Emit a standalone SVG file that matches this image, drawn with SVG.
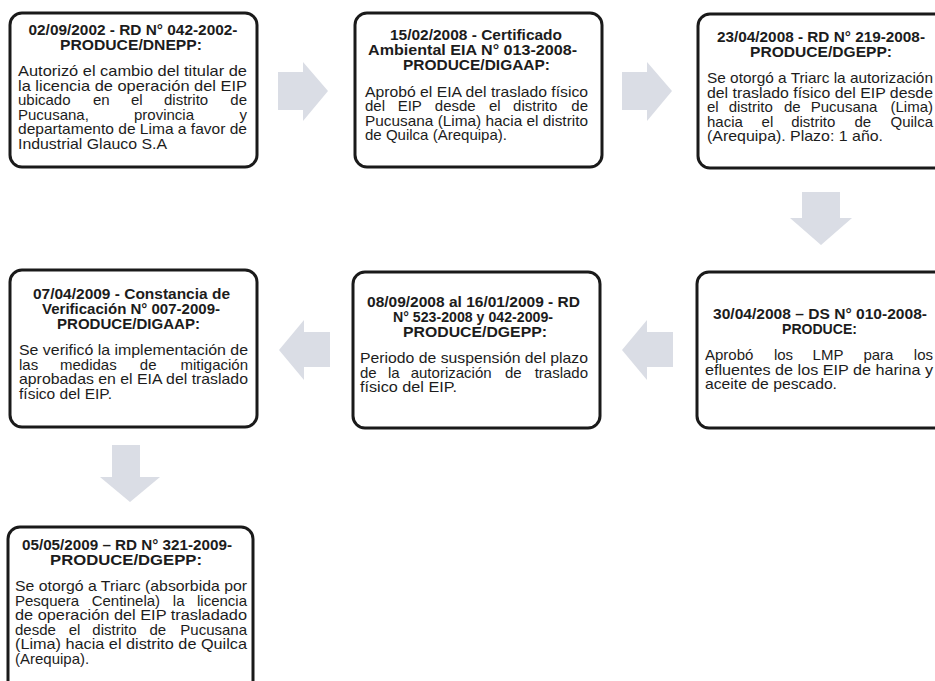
<svg xmlns="http://www.w3.org/2000/svg" width="935" height="681" viewBox="0 0 935 681">
<style>
.box{fill:#fff;stroke:#1a1a1a;stroke-width:3}
.h{font-family:"Liberation Sans",Arial,sans-serif;font-size:15px;font-weight:bold;fill:#1c1c1c;text-anchor:middle}
.b{font-family:"Liberation Sans",Arial,sans-serif;font-size:15px;fill:#1c1c1c}
.e{text-anchor:end}
.arr{fill:#dadde5}
</style>
<rect width="935" height="681" fill="#fff"/>
<g id="connectors">
<polygon class="arr" points="278,72 303,72 303,62 328,91 303,121 303,110 278,110"/>
<polygon class="arr" points="622,72 647,72 647,62 672,91 647,121 647,110 622,110"/>
<polygon class="arr" points="802,192 840,192 840,218 852,218 821,245 790,218 802,218"/>
<polygon class="arr" points="673,332 647,332 647,320 622,350 647,380 647,367 673,367"/>
<polygon class="arr" points="330,332 304,332 304,320 279,350 304,380 304,367 330,367"/>
<polygon class="arr" points="112,445 140,445 140,477 160,477 130,502 100,477 112,477"/>
</g>
<g id="node1">
<rect class="box" x="10" y="13" width="247" height="154" rx="12"/>
<text class="h" x="133" y="35" textLength="209" lengthAdjust="spacingAndGlyphs">02/09/2002 - RD N° 042-2002-</text>
<text class="h" x="131" y="50" textLength="142" lengthAdjust="spacingAndGlyphs">PRODUCE/DNEPP:</text>
<text class="b" x="18" y="76" textLength="229" lengthAdjust="spacingAndGlyphs">Autorizó el cambio del titular de</text>
<text class="b" x="18" y="90.5" textLength="229" lengthAdjust="spacingAndGlyphs">la licencia de operación del EIP</text>
<text class="b" x="18" y="105">ubicado</text>
<text class="b" x="93" y="105">en</text>
<text class="b" x="131" y="105">el</text>
<text class="b" x="164" y="105">distrito</text>
<text class="b e" x="247" y="105">de</text>
<text class="b" x="18" y="119.5">Pucusana,</text>
<text class="b" x="134" y="119.5">provincia</text>
<text class="b e" x="247" y="119.5">y</text>
<text class="b" x="18" y="134" textLength="229" lengthAdjust="spacingAndGlyphs">departamento de Lima a favor de</text>
<text class="b" x="18" y="148.5" textLength="149" lengthAdjust="spacingAndGlyphs">Industrial Glauco S.A</text>
</g>
<g id="node2">
<rect class="box" x="355" y="13" width="247" height="154" rx="12"/>
<text class="h" x="476" y="40" textLength="172" lengthAdjust="spacingAndGlyphs">15/02/2008 - Certificado</text>
<text class="h" x="472.5" y="55" textLength="209" lengthAdjust="spacingAndGlyphs">Ambiental EIA N° 013-2008-</text>
<text class="h" x="476.5" y="70" textLength="147" lengthAdjust="spacingAndGlyphs">PRODUCE/DIGAAP:</text>
<text class="b" x="365" y="96.5" textLength="223" lengthAdjust="spacingAndGlyphs">Aprobó el EIA del traslado físico</text>
<text class="b" x="365" y="111">del</text>
<text class="b" x="397.7" y="111">EIP</text>
<text class="b" x="434.8" y="111">desde</text>
<text class="b" x="489" y="111">el</text>
<text class="b" x="513.1" y="111">distrito</text>
<text class="b e" x="588" y="111">de</text>
<text class="b" x="365" y="125.5" textLength="223" lengthAdjust="spacingAndGlyphs">Pucusana (Lima) hacia el distrito</text>
<text class="b" x="365" y="140" textLength="142" lengthAdjust="spacingAndGlyphs">de Quilca (Arequipa).</text>
</g>
<g id="node3">
<rect class="box" x="698" y="14" width="262" height="154" rx="12"/>
<text class="h" x="821" y="42" textLength="208" lengthAdjust="spacingAndGlyphs">23/04/2008 - RD N° 219-2008-</text>
<text class="h" x="821" y="57" textLength="142" lengthAdjust="spacingAndGlyphs">PRODUCE/DGEPP:</text>
<text class="b" x="707" y="83" textLength="226" lengthAdjust="spacingAndGlyphs">Se otorgó a Triarc la autorización</text>
<text class="b" x="707" y="97.5" textLength="226" lengthAdjust="spacingAndGlyphs">del traslado físico del EIP desde</text>
<text class="b" x="707" y="112">el</text>
<text class="b" x="728.7" y="112">distrito</text>
<text class="b" x="783.9" y="112">de</text>
<text class="b" x="810.7" y="112">Pucusana</text>
<text class="b e" x="933" y="112">(Lima)</text>
<text class="b" x="707" y="126.5">hacia</text>
<text class="b" x="761.6" y="126.5">el</text>
<text class="b" x="791.2" y="126.5">distrito</text>
<text class="b" x="854.4" y="126.5">de</text>
<text class="b e" x="933" y="126.5">Quilca</text>
<text class="b" x="707" y="141" textLength="176" lengthAdjust="spacingAndGlyphs">(Arequipa). Plazo: 1 año.</text>
</g>
<g id="node4">
<rect class="box" x="10" y="270" width="247" height="157" rx="12"/>
<text class="h" x="131.5" y="299" textLength="197" lengthAdjust="spacingAndGlyphs">07/04/2009 - Constancia de</text>
<text class="h" x="131" y="314" textLength="178" lengthAdjust="spacingAndGlyphs">Verificación N° 007-2009-</text>
<text class="h" x="128.5" y="329" textLength="143" lengthAdjust="spacingAndGlyphs">PRODUCE/DIGAAP:</text>
<text class="b" x="19" y="355" textLength="229" lengthAdjust="spacingAndGlyphs">Se verificó la implementación de</text>
<text class="b" x="19" y="369.5">las</text>
<text class="b" x="60" y="369.5">medidas</text>
<text class="b" x="139.8" y="369.5">de</text>
<text class="b e" x="248" y="369.5">mitigación</text>
<text class="b" x="19" y="384" textLength="229" lengthAdjust="spacingAndGlyphs">aprobadas en el EIA del traslado</text>
<text class="b" x="19" y="398.5" textLength="93" lengthAdjust="spacingAndGlyphs">físico del EIP.</text>
</g>
<g id="node5">
<rect class="box" x="353" y="272" width="247" height="156" rx="12"/>
<text class="h" x="473.5" y="307" textLength="213" lengthAdjust="spacingAndGlyphs">08/09/2008 al 16/01/2009 - RD</text>
<text class="h" x="473" y="322" textLength="160" lengthAdjust="spacingAndGlyphs">N° 523-2008 y 042-2009-</text>
<text class="h" x="475" y="337" textLength="144" lengthAdjust="spacingAndGlyphs">PRODUCE/DGEPP:</text>
<text class="b" x="360" y="363" textLength="228" lengthAdjust="spacingAndGlyphs">Periodo de suspensión del plazo</text>
<text class="b" x="360" y="377.5">de</text>
<text class="b" x="387.9" y="377.5">la</text>
<text class="b" x="410.7" y="377.5">autorización</text>
<text class="b" x="505" y="377.5">de</text>
<text class="b e" x="588" y="377.5">traslado</text>
<text class="b" x="360" y="392" textLength="97" lengthAdjust="spacingAndGlyphs">físico del EIP.</text>
</g>
<g id="node6">
<rect class="box" x="697" y="272" width="262" height="156" rx="12"/>
<text class="h" x="820" y="319" textLength="214" lengthAdjust="spacingAndGlyphs">30/04/2008 – DS N° 010-2008-</text>
<text class="h" x="819.5" y="334" textLength="75" lengthAdjust="spacingAndGlyphs">PRODUCE:</text>
<text class="b" x="705" y="360">Aprobó</text>
<text class="b" x="773.9" y="360">los</text>
<text class="b" x="812.6" y="360">LMP</text>
<text class="b" x="863.4" y="360">para</text>
<text class="b e" x="933" y="360">los</text>
<text class="b" x="705" y="374.5" textLength="228" lengthAdjust="spacingAndGlyphs">efluentes de los EIP de harina y</text>
<text class="b" x="705" y="389" textLength="132" lengthAdjust="spacingAndGlyphs">aceite de pescado.</text>
</g>
<g id="node7">
<rect class="box" x="8" y="527" width="245" height="170" rx="12"/>
<text class="h" x="127" y="550" textLength="210" lengthAdjust="spacingAndGlyphs">05/05/2009 – RD N° 321-2009-</text>
<text class="h" x="126" y="565" textLength="152" lengthAdjust="spacingAndGlyphs">PRODUCE/DGEPP:</text>
<text class="b" x="15" y="591" textLength="232" lengthAdjust="spacingAndGlyphs">Se otorgó a Triarc (absorbida por</text>
<text class="b" x="15" y="605.5">Pesquera</text>
<text class="b" x="91.7" y="605.5">Centinela)</text>
<text class="b" x="172.8" y="605.5">la</text>
<text class="b e" x="247" y="605.5">licencia</text>
<text class="b" x="15" y="620" textLength="232" lengthAdjust="spacingAndGlyphs">de operación del EIP trasladado</text>
<text class="b" x="15" y="634.5">desde</text>
<text class="b" x="68.7" y="634.5">el</text>
<text class="b" x="92.3" y="634.5">distrito</text>
<text class="b" x="149.4" y="634.5">de</text>
<text class="b e" x="247" y="634.5">Pucusana</text>
<text class="b" x="15" y="649" textLength="232" lengthAdjust="spacingAndGlyphs">(Lima) hacia el distrito de Quilca</text>
<text class="b" x="15" y="663.5">(Arequipa).</text>
</g>
</svg>
